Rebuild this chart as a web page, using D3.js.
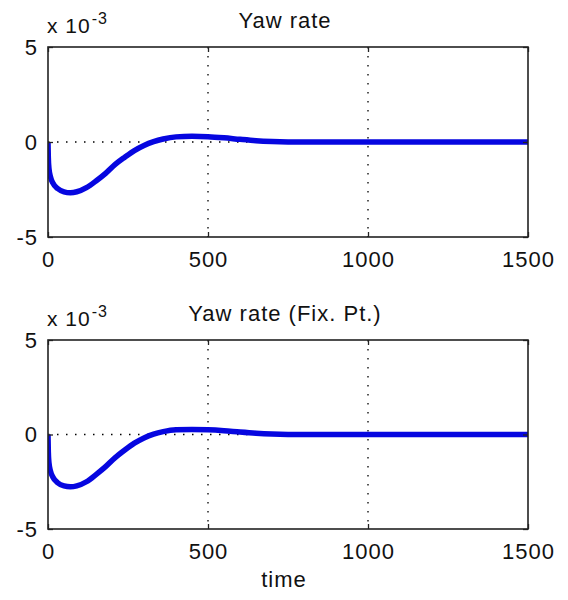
<!DOCTYPE html>
<html>
<head>
<meta charset="utf-8">
<script src="https://cdn.jsdelivr.net/npm/d3@7"></script>
<style>
  body { margin: 0; background: #fff; }
  text { font-family: "Liberation Sans", Arial, sans-serif; fill: #111; }
</style>
</head>
<body>
<svg id="chart" width="568" height="600"></svg>
<script>
// time samples and yaw rate readings (x 1e-3)
var timeS = [0, 1, 3, 8, 15, 30, 50, 70, 90, 120, 150, 180, 210, 240, 270, 300, 330, 360, 400, 450, 500, 550, 600, 650, 700, 800, 1000, 1500];
var yawRate = [0, -0.8, -1.4, -1.85, -2.15, -2.45, -2.62, -2.67, -2.62, -2.4, -2.05, -1.65, -1.18, -0.8, -0.45, -0.18, 0.02, 0.16, 0.27, 0.3, 0.28, 0.22, 0.14, 0.07, 0.03, 0, 0, 0];
var yawRateFix = [0, -0.9, -1.5, -1.95, -2.25, -2.55, -2.72, -2.77, -2.72, -2.5, -2.12, -1.7, -1.22, -0.82, -0.46, -0.18, 0.02, 0.15, 0.25, 0.27, 0.25, 0.2, 0.13, 0.07, 0.03, 0, 0, 0];
var xTicks = [0, 500, 1000, 1500];
var yTicks = [-5, 0, 5];
var xGrid = [500, 1000];
var yGrid = [0];

var svg = d3.select("#chart");
var left = 48, right = 528;

var x = d3.scaleLinear().domain([0, 1500]).range([left, right]);

function drawPanel(top, bottom, title, values, id) {
  var y = d3.scaleLinear().domain([-5, 5]).range([bottom, top]);
  var g = svg.append("g");

  // dotted grid
  g.selectAll(".vgrid").data(xGrid).join("line")
    .attr("x1", d => x(d)).attr("x2", d => x(d))
    .attr("y1", top).attr("y2", bottom)
    .attr("stroke", "#000").attr("stroke-width", 1.3)
    .attr("stroke-dasharray", "1.5,7.5");
  g.selectAll(".hgrid").data(yGrid).join("line")
    .attr("x1", left).attr("x2", right)
    .attr("y1", d => y(d)).attr("y2", d => y(d))
    .attr("stroke", "#000").attr("stroke-width", 1.3)
    .attr("stroke-dasharray", "1.5,7.5");

  // data line
  svg.append("clipPath").attr("id", id)
    .append("rect").attr("x", left).attr("y", top)
    .attr("width", right - left).attr("height", bottom - top);

  var line = d3.line()
    .x((d, i) => x(timeS[i]))
    .y(d => y(d))
    .curve(d3.curveMonotoneX);

  g.append("path")
    .datum(values)
    .attr("clip-path", "url(#" + id + ")")
    .attr("fill", "none")
    .attr("stroke", "#0606e0")
    .attr("stroke-width", 5.5)
    .attr("stroke-linejoin", "round")
    .attr("d", line);

  // axes, ticks inside
  g.append("g").attr("transform", "translate(0," + bottom + ")")
    .call(d3.axisBottom(x).tickValues(xTicks).tickSize(-5).tickPadding(14).tickFormat(d3.format("d")));
  g.append("g").attr("transform", "translate(0," + top + ")")
    .call(d3.axisTop(x).tickValues(xTicks).tickSize(-5).tickFormat(""));
  var ay = g.append("g").attr("transform", "translate(" + left + ",0)")
    .call(d3.axisLeft(y).tickValues(yTicks).tickSize(-5).tickPadding(10).tickFormat(d3.format("d")));
  g.append("g").attr("transform", "translate(" + right + ",0)")
    .call(d3.axisRight(y).tickValues(yTicks).tickSize(-5).tickFormat(""));

  g.selectAll(".domain").remove();
  g.selectAll(".tick line").attr("stroke", "#222").attr("stroke-width", 1.3);
  g.selectAll(".tick text")
    .attr("font-size", 22).attr("letter-spacing", 1)
    .attr("font-family", "Liberation Sans, Arial, sans-serif")
    .attr("fill", "#111");
  ay.selectAll(".tick text").text(d => d === -5 ? "-5" : d);

  // box
  g.append("rect")
    .attr("x", left).attr("y", top)
    .attr("width", right - left).attr("height", bottom - top)
    .attr("fill", "none").attr("stroke", "#222").attr("stroke-width", 1.6);

  // exponent label
  var ex = g.append("text").attr("x", 47).attr("y", top - 14)
    .attr("font-size", 21).attr("letter-spacing", 1);
  ex.append("tspan").text("x 10");
  ex.append("tspan").attr("font-size", 16).attr("dy", -9).attr("dx", 1).text("-3");

  // title
  g.append("text").attr("x", (left + right) / 2 - 3).attr("y", top - 19)
    .attr("text-anchor", "middle")
    .attr("font-size", 22).attr("letter-spacing", 1)
    .text(title);
}

drawPanel(47, 237, "Yaw rate", yawRate, "clipA");
drawPanel(340, 529, "Yaw rate (Fix. Pt.)", yawRateFix, "clipB");

svg.append("text")
  .attr("x", 284).attr("y", 587)
  .attr("text-anchor", "middle")
  .attr("font-size", 22).attr("letter-spacing", 1)
  .text("time");
</script>
</body>
</html>
